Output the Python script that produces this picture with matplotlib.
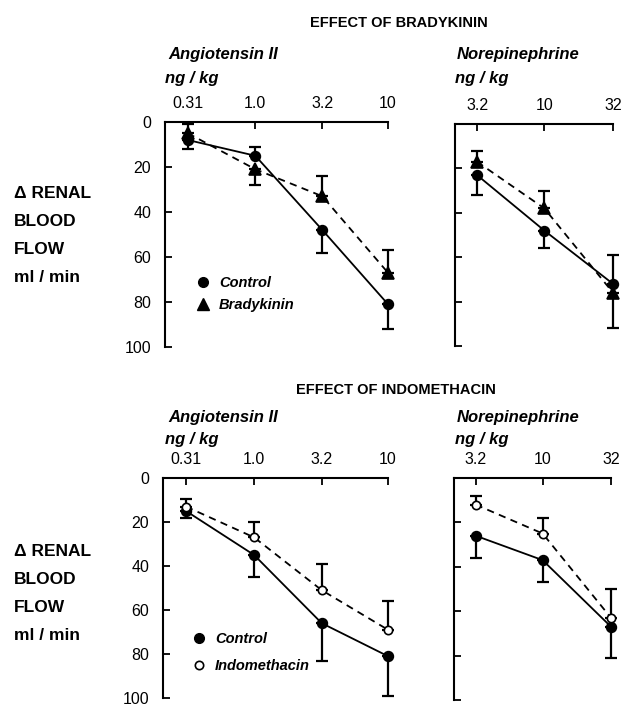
import matplotlib
matplotlib.use("Agg")
import numpy as np
import matplotlib.pyplot as plt
from matplotlib.lines import Line2D

plt.rcParams['font.family'] = ['Liberation Sans', 'DejaVu Sans']

W, H = 624, 707

# dose levels
ang_dose = [0.31, 1.0, 3.2, 10]
ne_dose = [3.2, 10, 32]
ang_labels = ['0.31', '1.0', '3.2', '10']
ne_labels = ['3.2', '10', '32']

# Effect of bradykinin (fall in renal blood flow, ml/min)
bk_ang_ctrl = [8, 15, 48, 81]
bk_ang_ctrl_err = [4, -4, 10, 11]      # + = bar downward, - = bar upward
bk_ang_bk = [5, 21, 33, 67]
bk_ang_bk_err = [-4, 7, -9, -10]
bk_ne_ctrl = [23, 48, 72]
bk_ne_ctrl_err = [9, 8, -13]
bk_ne_bk = [17, 38, 76]
bk_ne_bk_err = [-5, -8, 16]

# Effect of indomethacin
in_ang_ctrl = [15, 35, 66, 81]
in_ang_ctrl_err = [3, 10, 17, 18]
in_ang_ind = [13, 27, 51, 69]
in_ang_ind_err = [-3.5, -7, -12, -13]
in_ne_ctrl = [26, 37, 67]
in_ne_ctrl_err = [10, 10, 14]
in_ne_ind = [12, 25, 63]
in_ne_ind_err = [-4, -7, -13]

yticks = [0, 20, 40, 60, 80, 100]

fig = plt.figure(figsize=(W / 100, H / 100), dpi=100)


def box(l, r, t, b):
    return [l / W, 1 - b / H, (r - l) / W, (b - t) / H]


def series(ax, x, y, err, marker, face, ls, ms):
    err = np.array(err, dtype=float)
    lower = np.where(err > 0, err, 0)   # downward on inverted axis = larger values
    upper = np.where(err < 0, -err, 0)
    eb = ax.errorbar(x, y, yerr=[upper, lower], fmt='none', ecolor='black',
                     elinewidth=1.6, capsize=4.5, capthick=1.6, zorder=2)
    for art in eb.lines[1] + eb.lines[2]:
        art.set_clip_on(False)
    ax.plot(x, y, color='black', lw=1.3, ls=ls, zorder=3, clip_on=False)
    ax.plot(x, y, ls='none', marker=marker, ms=ms, mfc=face, mec='black',
            mew=1.2, zorder=4, clip_on=False)


def setup(ax, dose, labels, pad_dec, show_y):
    ax.set_xscale('log')
    ax.set_xlim(10 ** (np.log10(dose[0]) - pad_dec), dose[-1])
    ax.set_ylim(100, 0)
    ax.minorticks_off()
    ax.set_xticks(dose)
    ax.set_xticklabels(labels)
    ax.xaxis.tick_top()
    ax.set_yticks(yticks)
    if show_y:
        ax.set_yticklabels([str(v) for v in yticks])
    else:
        ax.set_yticklabels([])
    ax.tick_params(axis='both', direction='in', length=5, width=1.3,
                   labelsize=11.5)
    ax.tick_params(axis='y', pad=10)
    ax.tick_params(axis='x', pad=8)
    for s in ['right', 'bottom']:
        ax.spines[s].set_visible(False)
    for s in ['left', 'top']:
        ax.spines[s].set_linewidth(1.5)
    ax.patch.set_alpha(0)


# top row
ax1 = fig.add_axes(box(165, 388, 122, 347))
setup(ax1, ang_dose, ang_labels, 0.172, True)
series(ax1, ang_dose, bk_ang_ctrl, bk_ang_ctrl_err, 'o', 'black', '-', 7)
series(ax1, ang_dose, bk_ang_bk, bk_ang_bk_err, '^', 'black', (0, (4, 3)), 8.5)

ax2 = fig.add_axes(box(455, 613, 124, 346))
setup(ax2, ne_dose, ne_labels, 0.162, False)
series(ax2, ne_dose, bk_ne_ctrl, bk_ne_ctrl_err, 'o', 'black', '-', 7)
series(ax2, ne_dose, bk_ne_bk, bk_ne_bk_err, '^', 'black', (0, (4, 3)), 8.5)

# bottom row
ax3 = fig.add_axes(box(163, 388, 478, 698))
setup(ax3, ang_dose, ang_labels, 0.172, True)
series(ax3, ang_dose, in_ang_ctrl, in_ang_ctrl_err, 'o', 'black', '-', 7)
series(ax3, ang_dose, in_ang_ind, in_ang_ind_err, 'o', 'white', (0, (4, 3)), 6)

ax4 = fig.add_axes(box(454, 611, 478, 700))
setup(ax4, ne_dose, ne_labels, 0.16, False)
series(ax4, ne_dose, in_ne_ctrl, in_ne_ctrl_err, 'o', 'black', '-', 7)
series(ax4, ne_dose, in_ne_ind, in_ne_ind_err, 'o', 'white', (0, (4, 3)), 6)

# legends
leg_font = dict(size=10.5, style='italic', weight='bold')
h1 = [Line2D([], [], ls='none', marker='o', ms=7, mfc='black', mec='black'),
      Line2D([], [], ls='none', marker='^', ms=8.5, mfc='black', mec='black')]
ax1.legend(h1, ['Control', 'Bradykinin'], loc='center left',
           bbox_to_anchor=(0.105, 0.235), frameon=False, borderpad=0,
           handlelength=1.0, handletextpad=0.6, labelspacing=0.5, prop=leg_font)
h3 = [Line2D([], [], ls='none', marker='o', ms=7, mfc='black', mec='black'),
      Line2D([], [], ls='none', marker='o', ms=6, mfc='white', mec='black', mew=1.2)]
ax3.legend(h3, ['Control', 'Indomethacin'], loc='center left',
           bbox_to_anchor=(0.095, 0.205), frameon=False, borderpad=0,
           handlelength=1.0, handletextpad=0.6, labelspacing=0.9, prop=leg_font)


def ftext(x, y, s, **kw):
    fig.text(x / W, 1 - y / H, s, va='center', ha='left', **kw)


# titles and labels
ftext(310, 23, 'EFFECT OF BRADYKININ', size=10.5, weight='bold')
ftext(296, 390, 'EFFECT OF INDOMETHACIN', size=10.5, weight='bold')

for yo in (0, 362):
    ftext(168, 55 + yo, 'Angiotensin II', size=12, style='italic', weight='bold')
    ftext(165, 78 + yo, 'ng / kg', size=12, style='italic', weight='bold')
    ftext(457, 55 + yo, 'Norepinephrine', size=12, style='italic', weight='bold')
    ftext(455, 78 + yo, 'ng / kg', size=12, style='italic', weight='bold')

for yo in (0, 358):
    ftext(14, 193 + yo, '\u0394 RENAL', size=12.5, weight='bold')
    ftext(14, 222 + yo, 'BLOOD', size=12.5, weight='bold')
    ftext(14, 250 + yo, 'FLOW', size=12.5, weight='bold')
    ftext(14, 278 + yo, 'ml / min', size=12.5, weight='bold')

fig.savefig('out.png', dpi=100)
